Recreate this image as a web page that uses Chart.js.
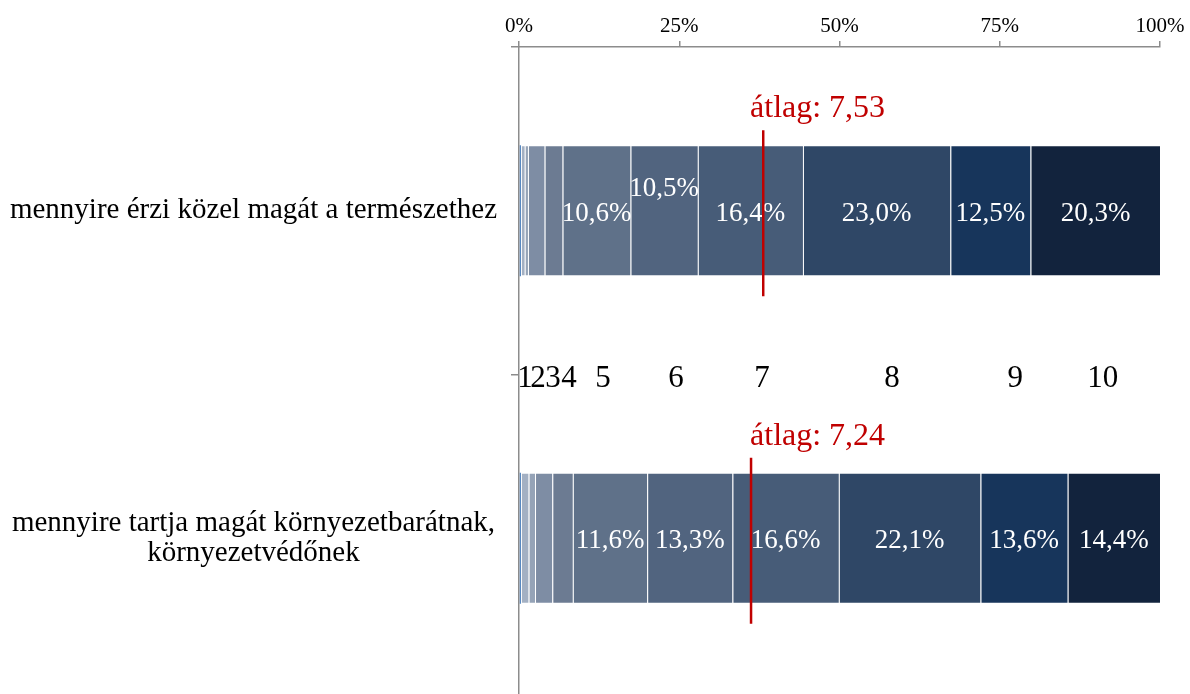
<!DOCTYPE html>
<html>
<head>
<meta charset="utf-8">
<script src="https://cdn.jsdelivr.net/npm/chart.js@4/dist/chart.umd.min.js"></script>
<style>
  html, body { margin: 0; padding: 0; background: #fff; overflow: hidden; }
  #wrap { width: 1190px; height: 702px; }
</style>
</head>
<body>
<div id="wrap"><canvas id="c" width="1190" height="702"></canvas></div>
<script>
// ── data ──
const questions = [
  "mennyire érzi közel magát a természethez",
  ["mennyire tartja magát környezetbarátnak,", "környezetvédőnek"]
];
const scalePoints = ["0", "1", "2", "3", "4", "5", "6", "7", "8", "9", "10"];
// share of answers (%) per scale point, one array per question
const kozelTermeszet = [0.3, 0.6, 0.5, 2.6, 2.8, 10.6, 10.5, 16.4, 23.0, 12.5, 20.3];
const kornyezetbarat = [0.3, 1.2, 1.0, 2.7, 3.2, 11.6, 13.3, 16.6, 22.1, 13.6, 14.4];
// hidden helper row that carries the scale labels between the bars
const skalaSor = [0.3, 1.3, 2.7, 2.0, 3.0, 7.6, 15.2, 11.6, 29.0, 9.4, 17.9];
const skalaCimke = ["", "1", "2", "3", "4", "5", "6", "7", "8", "9", "10"];
const atlagErtek = ["7,53", "7,24"];
const atlagPoz = [38.1, 36.2];   // where the mean marker sits on the % axis
const xTicks = [0, 25, 50, 75, 100];

const colors = ["#4a7ebb", "#a3b0c3", "#95a3b7", "#7e8da4", "#6c7b92", "#5f7189",
                "#51647f", "#475c78", "#2f4766", "#17355b", "#12233d"];
const SERIF = '"Liberation Serif", "Times New Roman", serif';
const RED = "#c00000";

const fmt = v => v.toFixed(1).replace(".", ",") + "%";

// ── plugin: inside labels, mean markers, scale row ──
const overlay = {
  id: "overlay",
  afterDatasetsDraw(chart) {
    const { ctx } = chart;
    const xs = chart.scales.x, ys = chart.scales.y;

    // value labels (only the big segments)
    ctx.save();
    ctx.fillStyle = "#fff";
    ctx.font = `27px ${SERIF}`;
    ctx.textAlign = "center";
    ctx.textBaseline = "middle";
    chart.data.datasets.forEach((ds, di) => {
      const meta = chart.getDatasetMeta(di);
      meta.data.forEach((bar, i) => {
        const v = ds.data[i];
        if (v < 10) return;
        const dy = (i === 0 && di === 6) ? -22 : 3;
        ctx.fillText(fmt(v), (bar.x + bar.base) / 2, bar.y + dy);
      });
    });
    ctx.restore();

    // mean markers
    const textX = xs.getPixelForValue(Math.min(...atlagPoz)) - 1;
    atlagPoz.forEach((p, i) => {
      const bar = chart.getDatasetMeta(0).data[i];
      const top = bar.y - bar.height / 2, bot = bar.y + bar.height / 2;
      const x = xs.getPixelForValue(p);
      ctx.save();
      ctx.strokeStyle = RED;
      ctx.lineWidth = 2.5;
      ctx.beginPath();
      ctx.moveTo(x, top - 15);
      ctx.lineTo(x, bot + 20);
      ctx.stroke();
      ctx.fillStyle = RED;
      ctx.font = `32px ${SERIF}`;
      ctx.textAlign = "left";
      ctx.textBaseline = "alphabetic";
      ctx.fillText("átlag: " + atlagErtek[i], textX, top - 28);
      ctx.restore();
    });

    // scale labels row between the two bars
    const midY = (ys.getPixelForValue(0) + ys.getPixelForValue(1)) / 2 + 4;
    ctx.save();
    ctx.fillStyle = "#000";
    ctx.font = `31px ${SERIF}`;
    ctx.textAlign = "center";
    ctx.textBaseline = "middle";
    let cum = 0;
    skalaSor.forEach((w, i) => {
      const cx = xs.getPixelForValue(cum + w / 2);
      cum += w;
      if (skalaCimke[i]) ctx.fillText(skalaCimke[i], cx, midY);
    });
    ctx.restore();
  }
};

new Chart(document.getElementById("c"), {
  type: "bar",
  data: {
    labels: questions,
    datasets: scalePoints.map((s, i) => ({
      label: s,
      data: [kozelTermeszet[i], kornyezetbarat[i]],
      backgroundColor: colors[i],
      borderColor: "rgba(255,255,255,0.16)",
      borderWidth: i === 0 ? 0 : { left: 1, right: 0, top: 1, bottom: 1 },
      borderSkipped: false,
      categoryPercentage: 1,
      barPercentage: 0.4
    }))
  },
  options: {
    indexAxis: "y",
    responsive: false,
    animation: false,
    layout: { padding: { top: 0, right: 30, left: 0, bottom: 0 } },
    plugins: { legend: { display: false }, tooltip: { enabled: false } },
    scales: {
      x: {
        position: "top",
        stacked: true,
        min: 0,
        max: 100,
        afterBuildTicks: s => { s.ticks = xTicks.map(v => ({ value: v })); },
        afterFit: s => { s.height = 47; s.paddingLeft = 0; s.paddingRight = 0; },
        ticks: { color: "#000", font: { family: SERIF, size: 21 }, padding: 2, callback: v => v + "%" },
        grid: { drawOnChartArea: false, tickLength: 6, color: "#8c8c8c", lineWidth: 1.5 },
        border: { color: "#8c8c8c", width: 1.5 }
      },
      y: {
        stacked: true,
        afterFit: s => { s.width = 519; s.paddingTop = 0; s.paddingBottom = 0; },
        ticks: { color: "#000", font: { family: SERIF, size: 29, lineHeight: 1.05 }, crossAlign: "center", padding: 14 },
        grid: { offset: true, drawOnChartArea: false, tickLength: 8, color: "#8c8c8c", lineWidth: 1.5 },
        border: { color: "#8c8c8c", width: 1.5 }
      }
    }
  },
  plugins: [overlay]
});
</script>
</body>
</html>
